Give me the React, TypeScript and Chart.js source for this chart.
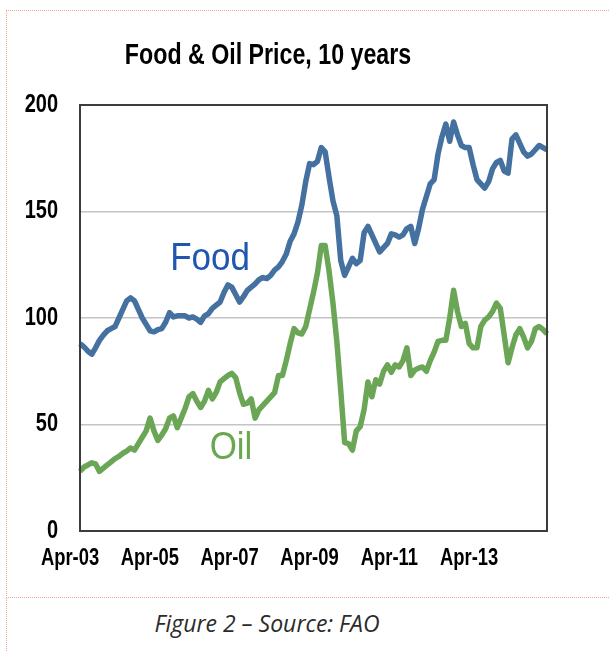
import React, { useEffect, useRef } from 'react';
import { Chart, registerables } from 'chart.js';

Chart.register(...registerables);

const FONT = '"Liberation Sans", Arial, Helvetica, sans-serif';

// Monthly observations, Apr-2003 .. Apr-2013
const START_YEAR = 2003;
const START_MONTH = 3; // April (0-based)
const MONTH_NAMES = ['Jan', 'Feb', 'Mar', 'Apr', 'May', 'Jun', 'Jul', 'Aug', 'Sep', 'Oct', 'Nov', 'Dec'];

const food = [
  88, 86.5, 84.5, 83, 86, 89.5, 92, 94, 95, 96,
  100, 104, 108, 109.5, 108, 104, 100, 97, 94, 93.5,
  94.5, 95, 98, 102.5, 100.5, 101, 101, 101, 100, 100.5,
  99.5, 98, 101, 102, 104.5, 106, 107.5, 112, 115.5, 114.5,
  111, 107.5, 110, 113, 114.5, 116, 118, 119, 118.5, 120,
  122.5, 124, 126.5, 130, 136, 139.5, 145, 153, 164, 172.5,
  172, 173.5, 180, 178, 166, 155, 148, 127, 120, 124,
  128, 125.5, 127, 140, 143, 139, 135, 131, 133, 135,
  139.5, 139, 138, 139, 142, 143, 135, 142, 151, 157,
  163, 165, 177, 185, 191, 183, 192, 186, 181, 180,
  180, 172, 165, 163, 161, 164, 170, 173, 174, 169,
  168, 184, 186, 182, 178, 176, 177, 179, 181, 180,
  179,
];

const oil = [
  28, 30, 31, 32, 31.5, 28, 29.5, 31, 32.5, 34,
  35, 36.5, 37.5, 39, 38, 41, 44, 47, 53, 47,
  42.5, 45, 48, 53, 54, 48.5, 53, 57.5, 63, 64.5,
  61, 58, 61, 66, 62, 65, 70, 71.5, 73, 74,
  72, 65, 59.5, 60, 62, 53, 57, 59, 61, 63,
  65, 73, 73, 80, 88, 95, 93, 92.5, 96, 104,
  112, 121, 134, 134, 122, 107, 89, 66, 41.5, 41,
  38, 47, 49, 57, 70, 63, 71, 69, 75, 78,
  74.5, 78, 77, 80, 86, 73, 75.5, 76.5, 77, 75,
  80, 84, 89, 89.5, 89.5, 100, 113, 103, 96, 97.5,
  88, 86, 86, 96, 99, 100.5, 103, 107, 104.5, 92,
  79, 86, 92, 95, 91, 86, 89, 95, 96, 94.5,
  92.5,
];

const months: string[] = food.map((_, i) => {
  const m = START_MONTH + i;
  const y = START_YEAR + Math.floor(m / 12);
  return `${MONTH_NAMES[m % 12]}-${String(y % 100).padStart(2, '0')}`;
});

const tickYears = [2003, 2005, 2007, 2009, 2011, 2013];
const tickLabels = ['Apr-03', 'Apr-05', 'Apr-07', 'Apr-09', 'Apr-11', 'Apr-13'];
const yTickValues = [0, 50, 100, 150, 200];

const seriesNames = ['Food', 'Oil'];
const seriesColors = ['#44719f', '#6aa656'];
const seriesLabelColors = ['#2156b0', '#6aa84f'];

// Draw all chart text horizontally condensed (like a narrow Helvetica face)
const condensePlugin = {
  id: 'condenseText',
  beforeDraw(chart: any) {
    const ctx: any = chart.ctx;
    if (ctx.__origFillText) return;
    ctx.__origFillText = ctx.fillText;
    ctx.__sx = 0.8;
    ctx.fillText = function (text: string, x: number, y: number) {
      const sx = this.__sx;
      this.save();
      this.translate(x, y);
      this.scale(sx, 1);
      this.__origFillText.call(this, text, 0, 0);
      this.restore();
    };
  },
};

const boxPlugin = {
  id: 'plotBox',
  afterDatasetsDraw(chart: any) {
    const { ctx, chartArea } = chart;
    ctx.save();
    ctx.strokeStyle = '#3c3c3c';
    ctx.lineWidth = 2;
    ctx.strokeRect(chartArea.left, chartArea.top, chartArea.right - chartArea.left, chartArea.bottom - chartArea.top);
    ctx.restore();
  },
};

const seriesLabelPlugin = {
  id: 'seriesLabels',
  afterDatasetsDraw(chart: any, _args: any, opts: any) {
    const ctx: any = chart.ctx;
    const xs = chart.scales.x;
    const ys = chart.scales.y;
    ctx.save();
    const prev = ctx.__sx;
    ctx.__sx = 0.92;
    ctx.textAlign = 'center';
    ctx.textBaseline = 'middle';
    ctx.font = `38px ${FONT}`;
    (opts.items || []).forEach((it: any) => {
      ctx.fillStyle = it.color;
      ctx.fillText(it.text, xs.getPixelForValue(it.at), ys.getPixelForValue(it.value));
    });
    ctx.__sx = prev;
    ctx.restore();
  },
};

function App() {
  const ref = useRef<HTMLCanvasElement | null>(null);

  useEffect(() => {
    if (!ref.current) return;
    const chart = new Chart(ref.current, {
      type: 'line',
      data: {
        labels: months,
        datasets: [food, oil].map((d, k) => ({
          label: seriesNames[k],
          data: d,
          borderColor: seriesColors[k],
          backgroundColor: seriesColors[k],
          borderWidth: 5.5,
          pointRadius: 0,
          tension: 0,
          borderJoinStyle: 'round' as const,
          xAxisID: 'x',
          yAxisID: 'y',
        })),
      },
      options: {
        animation: false,
        responsive: false,
        maintainAspectRatio: false,
        layout: { padding: { left: -11, right: 62, top: 0, bottom: 0 } },
        plugins: {
          legend: { display: false },
          tooltip: { enabled: false },
          title: {
            display: true,
            text: 'Food & Oil Price, 10 years',
            color: '#000',
            font: { family: FONT, size: 29, weight: 'bold' },
            padding: { top: 39, bottom: 31.2 },
          },
          seriesLabels: {
            items: [
              { text: 'Food', at: 33.4, value: 127.5, color: seriesLabelColors[0] },
              { text: 'Oil', at: 38.8, value: 38.8, color: seriesLabelColors[1] },
            ],
          },
        } as any,
        scales: {
          x: {
            type: 'category',
            display: false,
          },
          xl: {
            type: 'linear',
            position: 'bottom',
            min: 2003.25,
            max: 2014.95,
            afterBuildTicks: (s: any) => {
              s.ticks = tickYears.map((v) => ({ value: v }));
            },
            afterFit: (s: any) => {
              s.height = 59;
            },
            grid: { display: false, drawTicks: false },
            border: { display: false },
            ticks: {
              autoSkip: false,
              maxRotation: 0,
              minRotation: 0,
              padding: 14,
              color: '#000',
              font: { family: FONT, size: 23, weight: 'bold' },
              callback: (_v: any, i: number) => tickLabels[i],
            },
          },
          y: {
            type: 'linear',
            min: 0,
            max: 200,
            afterBuildTicks: (s: any) => {
              s.ticks = yTickValues.map((v) => ({ value: v }));
            },
            afterFit: (s: any) => {
              s.width = 91;
            },
            border: { display: false },
            grid: {
              drawTicks: false,
              lineWidth: 1.5,
              color: (c: any) => (c.tick && (c.tick.value === 0 || c.tick.value === 200) ? 'rgba(0,0,0,0)' : '#c4c4c4'),
            },
            ticks: {
              padding: 22,
              color: '#000',
              font: { family: FONT, size: 25, weight: 'bold' },
            },
          },
        } as any,
      },
      plugins: [condensePlugin, boxPlugin, seriesLabelPlugin],
    });
    return () => chart.destroy();
  }, []);

  const dotted = '1px dotted #f4a797';

  return (
    <div style={{ position: 'fixed', left: 0, top: 0, width: 609, height: 651, overflow: 'hidden', background: '#fff' }}>
      <div style={{ position: 'absolute', left: 6, top: 10, width: 700, height: 586, borderTop: dotted, borderLeft: dotted, borderBottom: dotted }} />
      <div style={{ position: 'absolute', left: 6, top: 597, width: 0, height: 60, borderLeft: dotted }} />
      <canvas ref={ref} width={609} height={590} style={{ position: 'absolute', left: 0, top: 0, width: 609, height: 590 }} />
      <div
        style={{
          position: 'absolute',
          left: 0,
          top: 607,
          width: 534,
          textAlign: 'center',
          fontFamily: '"Open Sans", "Noto Sans", sans-serif',
          fontStyle: 'italic',
          fontSize: 23,
          lineHeight: '32px',
          color: '#2b2b2b',
        }}
      >
        Figure 2 – Source: FAO
      </div>
    </div>
  );
}

export default App;
